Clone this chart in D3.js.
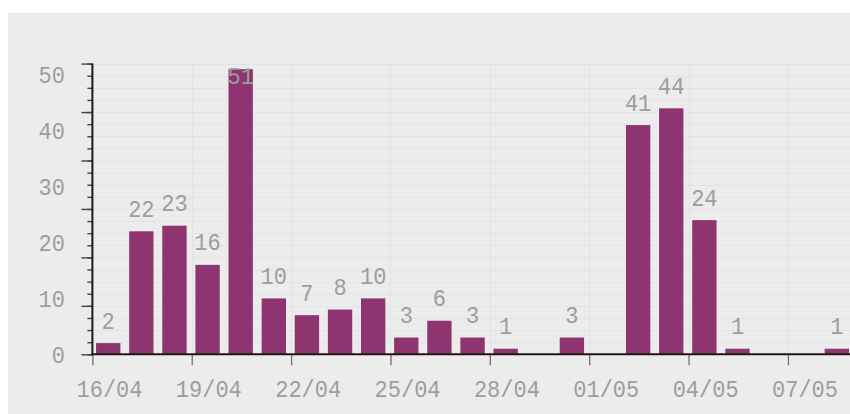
<!DOCTYPE html>
<html>
<head>
<meta charset="utf-8">
<script src="https://cdn.jsdelivr.net/npm/d3@7/dist/d3.min.js"></script>
<style>
  html, body { margin: 0; padding: 0; background: #ffffff; }
  svg { display: block; }
  text { font-family: "Liberation Mono", "DejaVu Sans Mono", monospace; }
</style>
</head>
<body>
<svg id="chart" width="850" height="414"></svg>
<script>
// Daily counts, one entry per day
const days = [
  "2020-04-16", "2020-04-17", "2020-04-18", "2020-04-19", "2020-04-20",
  "2020-04-21", "2020-04-22", "2020-04-23", "2020-04-24", "2020-04-25",
  "2020-04-26", "2020-04-27", "2020-04-28", "2020-04-29", "2020-04-30",
  "2020-05-01", "2020-05-02", "2020-05-03", "2020-05-04", "2020-05-05",
  "2020-05-06", "2020-05-07", "2020-05-08"
];
const counts = [
  2, 22, 23, 16, 51,
  10, 7, 8, 10, 3,
  6, 3, 1, 0, 3,
  0, 41, 44, 24, 1,
  0, 0, 1
];
const yLabelValues = [0, 10, 20, 30, 40, 50];
const xStart = "2020-04-16";
const xEnd = "2020-05-09";
const yMax = 52;

const svg = d3.select("#chart");
const W = 850, H = 414;

const BG = "#ececec";
const GRID = "#e3e3e3";
const BAR = "#8e3470";
const TEXT = "#9d9d9d";
const FONT = 22;
const STRETCH = 1.1; // tall, narrow digits

// panel
svg.append("rect").attr("x", 8).attr("y", 13).attr("width", W - 8).attr("height", H - 13).attr("fill", BG);

const parse = d3.utcParse("%Y-%m-%d");
const data = days.map((d, i) => ({ date: parse(d), value: counts[i] }));

const x = d3.scaleUtc().domain([parse(xStart), parse(xEnd)]).range([92.4, 92.4 + 23 * 33.12]);
const y = d3.scaleLinear().domain([0, yMax]).range([354.3, 63.6]);

const dayW = x(parse("2020-04-17")) - x(parse("2020-04-16"));
const majorTicks = d3.range(7).map(i => yMax * i / 6);
const minorTicks = d3.range(25).map(i => yMax * i / 24);
const xTicks = x.ticks(d3.utcDay.every(3)).filter(t => x(t) <= W);

// stretched text: baseline stays at the given y
function place(sel, xv, yv) {
  sel.attr("x", xv)
    .attr("y", typeof yv === "function" ? (d, i) => yv(d, i) / STRETCH : yv / STRETCH)
    .attr("dy", 0)
    .attr("transform", `scale(1,${STRETCH})`);
}

// grid
const grid = svg.append("g");
grid.selectAll("line.h").data(minorTicks.slice(1)).join("line")
  .attr("x1", x.range()[0]).attr("x2", W)
  .attr("y1", d => Math.round(y(d)) + 0.5).attr("y2", d => Math.round(y(d)) + 0.5)
  .attr("stroke", GRID).attr("stroke-width", 1);
grid.selectAll("line.v").data(xTicks.slice(1)).join("line")
  .attr("x1", d => Math.round(x(d)) + 0.5).attr("x2", d => Math.round(x(d)) + 0.5)
  .attr("y1", y(yMax)).attr("y2", y(0))
  .attr("stroke", GRID).attr("stroke-width", 1);

// bars
const barOff = dayW * 0.11, barW = dayW * 0.735;
const shown = data.filter(d => d.value > 0);
svg.append("g").selectAll("rect").data(shown).join("rect")
  .attr("x", d => x(d.date) + barOff)
  .attr("width", barW)
  .attr("y", d => y(d.value))
  .attr("height", d => y(0) - y(d.value))
  .attr("fill", BAR);

// value labels
svg.append("g").selectAll("text").data(shown).join("text")
  .call(place, d => x(d.date) + barOff + barW / 2, d => Math.max(y(d.value) - 14.5, y(yMax) + 20))
  .attr("text-anchor", "middle")
  .attr("fill", TEXT)
  .attr("font-size", FONT)
  .text(d => d.value);

// y axis: minor ticks, major ticks, labels
const yAxisG = svg.append("g").attr("transform", `translate(${x.range()[0]},0)`);
yAxisG.append("g")
  .call(d3.axisLeft(y).tickValues(minorTicks).tickSize(5).tickSizeOuter(0).tickFormat(""))
  .call(g => g.select(".domain").remove())
  .call(g => g.selectAll("line").attr("stroke", "#444").attr("stroke-width", 1.4));
yAxisG.append("g")
  .call(d3.axisLeft(y).tickValues(majorTicks).tickSize(11).tickSizeOuter(0).tickFormat(""))
  .call(g => g.select(".domain").remove())
  .call(g => g.selectAll("line").attr("stroke", "#444").attr("stroke-width", 1.4));
yAxisG.append("g")
  .call(d3.axisLeft(y).tickValues(yLabelValues).tickSize(0).tickPadding(27))
  .call(g => g.select(".domain").remove())
  .call(g => g.selectAll("text")
    .call(place, -27.5, 7.8)
    .attr("fill", TEXT).attr("font-size", FONT)
    .attr("font-family", null));

// x axis
svg.append("g").attr("transform", `translate(0,${y(0)})`)
  .call(d3.axisBottom(x).tickValues(xTicks).tickSize(11).tickSizeOuter(0).tickFormat(d3.utcFormat("%d/%m")))
  .call(g => g.select(".domain").remove())
  .call(g => g.selectAll("line").attr("stroke", "#777").attr("stroke-width", 1.4))
  .call(g => g.selectAll("text")
    .call(place, dayW / 2, 42.7)
    .attr("fill", TEXT).attr("font-size", FONT)
    .attr("font-family", null));

// axis lines
svg.append("line")
  .attr("x1", x.range()[0]).attr("x2", x.range()[0])
  .attr("y1", y(yMax)).attr("y2", y(0) + 1)
  .attr("stroke", "#1a1a1a").attr("stroke-width", 2);
svg.append("line")
  .attr("x1", x.range()[0] - 1).attr("x2", W)
  .attr("y1", y(0)).attr("y2", y(0))
  .attr("stroke", "#1a1a1a").attr("stroke-width", 2);
</script>
</body>
</html>
